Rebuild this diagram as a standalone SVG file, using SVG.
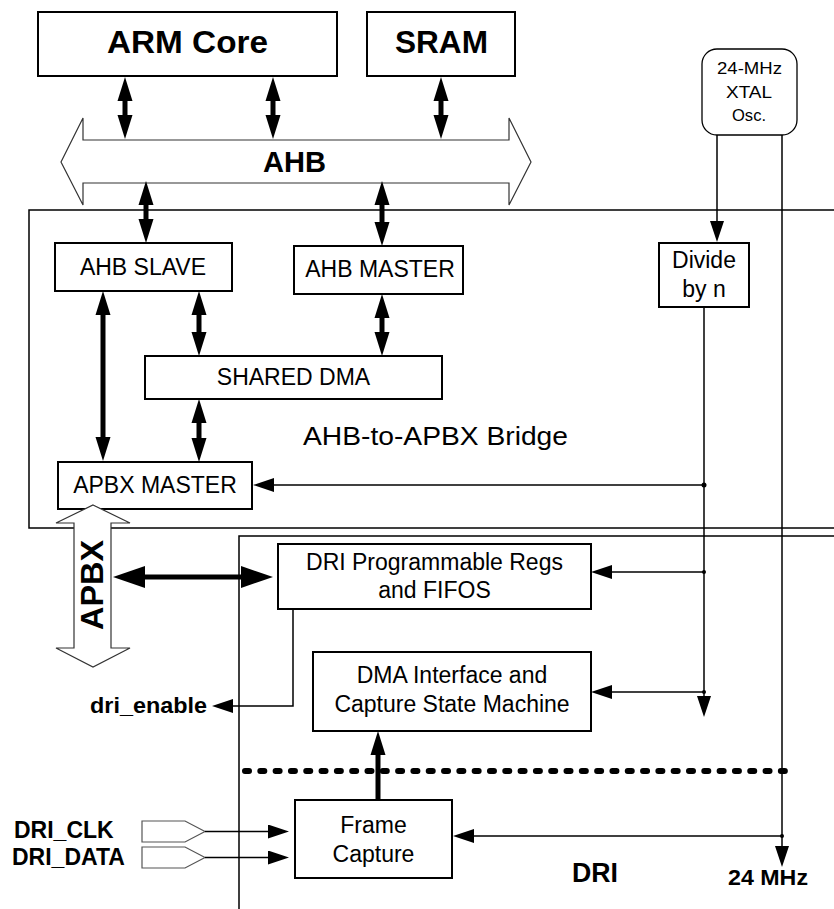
<svg xmlns="http://www.w3.org/2000/svg" width="834" height="909" viewBox="0 0 834 909">
<style>
text{font-family:"Liberation Sans",Arial,sans-serif;fill:#000}
.b{font-weight:bold}
.t{font-size:23px}
.box{fill:#fff;stroke:#000;stroke-width:2}
.outer{fill:none;stroke:#000;stroke-width:1.5}
.hollow{fill:#fff;stroke:#333;stroke-width:1.2}
.thin{fill:none;stroke:#000;stroke-width:1.5}
.thick{fill:none;stroke:#000;stroke-width:5}
.dot{fill:#000}
</style>
<defs>
<marker id="a" markerUnits="userSpaceOnUse" markerWidth="22" markerHeight="14" refX="1" refY="7" orient="auto"><path d="M0,0 L21,7 L0,14 z" fill="#000"/></marker>
<marker id="t" markerUnits="userSpaceOnUse" markerWidth="24" markerHeight="16" refX="1" refY="8" orient="auto-start-reverse"><path d="M0,0.5 L24,8 L0,15.5 z" fill="#000"/></marker>
<marker id="big" markerUnits="userSpaceOnUse" markerWidth="32" markerHeight="22" refX="1" refY="11" orient="auto-start-reverse"><path d="M0,0 L32,11 L0,22 z" fill="#000"/></marker>
</defs>

<g id="bridge">
<rect class="outer" x="29" y="210" width="900" height="318"/>
<text x="303" y="445" font-size="26" textLength="265" lengthAdjust="spacingAndGlyphs">AHB-to-APBX Bridge</text>
</g>
<g id="dri">
<rect class="outer" x="239" y="536" width="700" height="500"/>
<text class="b" x="572" y="882" font-size="27" textLength="46" lengthAdjust="spacingAndGlyphs">DRI</text>
</g>

<g id="arm-core">
<rect class="box" x="38" y="12" width="299" height="64"/>
<text class="b" x="107" y="53" font-size="31" textLength="161" lengthAdjust="spacingAndGlyphs">ARM Core</text>
</g>
<g id="sram">
<rect class="box" x="367" y="12" width="148" height="64"/>
<text class="b" x="395" y="53" font-size="31" textLength="93" lengthAdjust="spacingAndGlyphs">SRAM</text>
</g>
<g id="ahb">
<polygon class="hollow" points="61,162 83,118 83,140 509,140 509,118 531,162 509,205 509,183 83,183 83,205"/>
<text class="b" x="263" y="172" font-size="29" textLength="63" lengthAdjust="spacingAndGlyphs">AHB</text>
</g>
<g id="xtal">
<rect x="702" y="49" width="95" height="86" rx="15" ry="15" fill="#fff" stroke="#000" stroke-width="1.3"/>
<text x="717" y="74" font-size="17" textLength="65" lengthAdjust="spacingAndGlyphs">24-MHz</text>
<text x="726" y="98" font-size="17" textLength="46" lengthAdjust="spacingAndGlyphs">XTAL</text>
<text x="732" y="121" font-size="17" textLength="34" lengthAdjust="spacingAndGlyphs">Osc.</text>
</g>
<g id="divide">
<rect class="box" x="659" y="243" width="90" height="64"/>
<text class="t" x="704" y="268" text-anchor="middle">Divide</text>
<text class="t" x="704" y="297" text-anchor="middle">by n</text>
</g>
<g id="ahb-slave">
<rect class="box" x="55" y="243" width="177" height="48"/>
<text class="t" x="143" y="275" text-anchor="middle">AHB SLAVE</text>
</g>
<g id="ahb-master">
<rect class="box" x="294" y="246" width="169" height="48"/>
<text class="t" x="380" y="277" text-anchor="middle">AHB MASTER</text>
</g>
<g id="shared-dma">
<rect class="box" x="145" y="356" width="297" height="43"/>
<text class="t" x="293.5" y="385" text-anchor="middle">SHARED DMA</text>
</g>
<g id="apbx-master">
<rect class="box" x="58" y="462" width="194" height="47"/>
<text class="t" x="155" y="493" text-anchor="middle">APBX MASTER</text>
</g>
<g id="apbx">
<polygon class="hollow" points="93,505 130,523 111,523 111,648 130,648 93,667 56,648 74,648 74,523 56,523"/>
<text class="b" transform="translate(103,585) rotate(-90)" x="0" y="0" font-size="32" text-anchor="middle" textLength="90" lengthAdjust="spacingAndGlyphs">APBX</text>
</g>
<g id="dri-regs">
<rect class="box" x="278" y="544" width="313" height="65"/>
<text class="t" x="434.5" y="570" text-anchor="middle">DRI Programmable Regs</text>
<text class="t" x="434.5" y="598" text-anchor="middle">and FIFOS</text>
</g>
<g id="dma-interface">
<rect class="box" x="313" y="652" width="278" height="79"/>
<text class="t" x="452" y="683" text-anchor="middle">DMA Interface and</text>
<text class="t" x="452" y="712" text-anchor="middle">Capture State Machine</text>
</g>
<g id="frame-capture">
<rect class="box" x="295" y="800" width="157" height="78"/>
<text class="t" x="373.5" y="833" text-anchor="middle">Frame</text>
<text class="t" x="373.5" y="862" text-anchor="middle">Capture</text>
</g>
<g id="dri-clk">
<polygon points="142,821 185,821 205,831.5 185,842 142,842" fill="#fff" stroke="#555" stroke-width="1.2"/>
<text class="b t" x="14" y="838">DRI_CLK</text>
</g>
<g id="dri-data">
<polygon points="142,847 185,847 205,857.5 185,868 142,868" fill="#fff" stroke="#555" stroke-width="1.2"/>
<text class="b t" x="12" y="865">DRI_DATA</text>
</g>
<g id="dri-enable">
<text class="b" x="90" y="713" font-size="22" textLength="117" lengthAdjust="spacingAndGlyphs">dri_enable</text>
</g>
<g id="mhz24">
<text class="b" x="728" y="885" font-size="22" textLength="80" lengthAdjust="spacingAndGlyphs">24 MHz</text>
</g>

<g id="connectors">
<!-- thick bidirectional -->
<line class="thick" x1="125" y1="100" x2="125" y2="116" marker-start="url(#t)" marker-end="url(#t)"/>
<line class="thick" x1="273" y1="100" x2="273" y2="116" marker-start="url(#t)" marker-end="url(#t)"/>
<line class="thick" x1="441" y1="100" x2="441" y2="116" marker-start="url(#t)" marker-end="url(#t)"/>
<line class="thick" x1="146" y1="204" x2="146" y2="220" marker-start="url(#t)" marker-end="url(#t)"/>
<line class="thick" x1="382" y1="204" x2="382" y2="223" marker-start="url(#t)" marker-end="url(#t)"/>
<line class="thick" x1="103" y1="314" x2="103" y2="438" marker-start="url(#t)" marker-end="url(#t)"/>
<line class="thick" x1="199" y1="314" x2="199" y2="333" marker-start="url(#t)" marker-end="url(#t)"/>
<line class="thick" x1="382" y1="317" x2="382" y2="333" marker-start="url(#t)" marker-end="url(#t)"/>
<line class="thick" x1="199" y1="422" x2="199" y2="439" marker-start="url(#t)" marker-end="url(#t)"/>
<line class="thick" x1="144" y1="577" x2="242" y2="577" marker-start="url(#big)" marker-end="url(#big)"/>
<line class="thick" x1="378" y1="800" x2="378" y2="754" marker-end="url(#t)"/>
<!-- dotted separator -->
<line x1="245" y1="771" x2="787" y2="771" stroke="#000" stroke-width="6" stroke-linecap="round" stroke-dasharray="4 11.31"/>
<!-- thin connectors -->
<line class="thin" x1="717" y1="135" x2="717" y2="222" marker-end="url(#a)"/>
<line class="thin" x1="704" y1="307" x2="704" y2="697" marker-end="url(#a)"/>
<line class="thin" x1="704" y1="485" x2="273" y2="485" marker-end="url(#a)"/>
<line class="thin" x1="704" y1="572" x2="611" y2="572" marker-end="url(#a)"/>
<line class="thin" x1="704" y1="692" x2="611" y2="692" marker-end="url(#a)"/>
<line class="thin" x1="782" y1="135" x2="782" y2="847" marker-end="url(#a)"/>
<line class="thin" x1="782" y1="836" x2="473" y2="836" marker-end="url(#a)"/>
<polyline class="thin" points="293,609 293,706 232,706" marker-end="url(#a)"/>
<line class="thin" x1="205" y1="831.5" x2="269" y2="831.5" marker-end="url(#a)"/>
<line class="thin" x1="205" y1="857.5" x2="269" y2="857.5" marker-end="url(#a)"/>
<circle class="dot" cx="704" cy="485" r="2.5"/>
<circle class="dot" cx="704" cy="572" r="2"/>
<circle class="dot" cx="704" cy="692" r="2"/>
<circle class="dot" cx="782" cy="836" r="2"/>
</g>
</svg>
